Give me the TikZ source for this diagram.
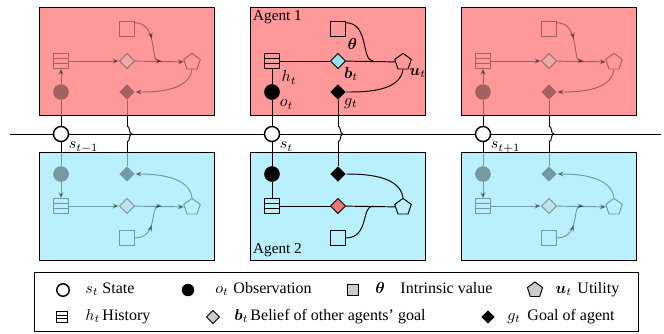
\documentclass[tikz,border=0pt]{standalone}
\usepackage{amsmath}
\usepackage{fontspec}
\setmainfont{Liberation Serif}
\usetikzlibrary{shapes.geometric,arrows.meta,decorations.pathreplacing,decorations.markings,calc}

\definecolor{agentred}{RGB}{255,153,153}
\definecolor{agentblue}{RGB}{185,240,252}
\definecolor{beliefblue}{RGB}{150,226,242}
\definecolor{beliefred}{RGB}{238,118,118}

\tikzset{
  stnode/.style={circle, draw, fill=white, line width=0.9pt, minimum size=9.4pt, inner sep=0pt},
  obnode/.style={circle, fill=black, minimum size=9.8pt, inner sep=0pt},
  hinode/.style={rectangle, draw, minimum size=8.8pt, inner sep=0pt, path picture={
      \draw ($(path picture bounding box.north west)!0.333!(path picture bounding box.south west)$)
         -- ($(path picture bounding box.north east)!0.333!(path picture bounding box.south east)$);
      \draw ($(path picture bounding box.north west)!0.667!(path picture bounding box.south west)$)
         -- ($(path picture bounding box.north east)!0.667!(path picture bounding box.south east)$);}},
  benode/.style={diamond, draw, minimum size=9.6pt, inner sep=0pt},
  gonode/.style={diamond, fill=black, minimum size=9.8pt, inner sep=0pt},
  thnode/.style={rectangle, draw, minimum size=8.8pt, inner sep=0pt},
  utnode/.style={regular polygon, regular polygon sides=5, draw, minimum size=10.8pt, inner sep=0pt},
  agentbox/.style={rectangle, draw, minimum width=109.4pt, minimum height=67.5pt, inner sep=0pt},
  flow/.style={-{Stealth[length=4pt,width=3.2pt]}},
  link/.style={-},
  flowmid/.style={postaction={decorate}, decoration={markings,
      mark=at position 0.5 with {\arrow{Stealth[length=4pt,width=3.2pt]}}}},
  linkmid/.style={},
  lbl/.style={anchor=north west, inner sep=1pt},
  txt/.style={anchor=base west, inner sep=0pt},
}

\begin{document}
\begin{tikzpicture}[x=0.625pt, y=-0.625pt, line width=0.6pt]
  \useasboundingbox (0,0) rectangle (664,333);

  % time line
  \coordinate (tl) at (10,134);
  \coordinate (tr) at (661,134);
  \draw (tl) -- (tr);

  \foreach \k/\x/\st/\op/\lk/\mk/\cb/\cr in
    {0/61/{t-1}/0.36/flow/flowmid/gray!40/gray!40,
     1/272/t/1/link/linkmid/beliefblue/beliefred,
     2/483/{t+1}/0.36/flow/flowmid/gray!40/gray!40}
  {
    \node[agentbox, fill=agentred] (top\k) at (\x+65.5,61) {};
    \node[agentbox, fill=agentblue] (bot\k) at (\x+65.5,206) {};

    \begin{scope}[opacity=\op]
      % agent 1
      \node[hinode] (ht\k) at (\x,61) {};
      \node[obnode] (ot\k) at (\x,92) {};
      \node[benode, fill=\cb] (bt\k) at (\x+66,61) {};
      \node[gonode] (gt\k) at (\x+66,92) {};
      \node[thnode] (tht\k) at (\x+66,29) {};
      \node[utnode] (ut\k) at (\x+131,62) {};
      \coordinate (mt\k) at (\x+101,61);
      \draw[\lk] (ot\k) -- (ht\k);
      \draw[\lk] (ht\k) -- (bt\k);
      \draw[\lk] (bt\k) -- (ut\k);
      \draw[\lk, \mk] (tht\k.40) .. controls +(24,0) and +(-12,0) .. (mt\k);
      \draw[\lk] (ut\k.south) .. controls +(-3,22) and +(28,0) .. (gt\k);
      \draw (ot\k) -- (ot\k |- top\k.south);
      \draw (gt\k) -- (gt\k |- top\k.south);
      % agent 2
      \node[obnode] (ob\k) at (\x,174) {};
      \node[hinode] (hb\k) at (\x,206) {};
      \node[gonode] (gb\k) at (\x+66,174) {};
      \node[benode, fill=\cr] (bb\k) at (\x+66,206) {};
      \node[thnode] (thb\k) at (\x+66,238) {};
      \node[utnode] (ub\k) at (\x+131,207) {};
      \coordinate (mb\k) at (\x+101,206);
      \draw[\lk] (ob\k) -- (hb\k);
      \draw[\lk] (hb\k) -- (bb\k);
      \draw[\lk] (bb\k) -- (ub\k);
      \draw[\lk, \mk] (thb\k.east) .. controls +(24,0) and +(-12,0) .. (mb\k);
      \draw[\lk] (ub\k.north) .. controls +(-3,-22) and +(28,0) .. (gb\k);
      \draw (ob\k) -- (ob\k |- bot\k.north);
      \draw (gb\k) -- (gb\k |- bot\k.north);
    \end{scope}

    % state and crossing
    \node[stnode] (s\k) at (\x,134) {};
    \node[lbl] (sl\k) at (s\k.south east) {$s_{\st}$};
    \draw (s\k) -- (s\k |- top\k.south);
    \draw (s\k) -- (s\k |- bot\k.north);
    \coordinate (ca\k) at (\x+66,126);
    \coordinate (cb\k) at (\x+66,142);
    \draw (ca\k |- top\k.south) -- (ca\k);
    \draw[decorate, decoration={brace, amplitude=3pt}] (ca\k) -- (cb\k);
    \draw (cb\k) -- (cb\k |- bot\k.north);
  }

  % labels of the middle step
  \node[lbl] (lh) at (ht1.south east) {$h_t$};
  \node[lbl] (lo) at (ot1.south east) {$o_t$};
  \node[lbl] (lb) at (bt1.south east) {$\boldsymbol{b}_t$};
  \node[lbl] (lg) at (gt1.south east) {$g_t$};
  \node[lbl] (lth) at (tht1.south east) {$\boldsymbol{\theta}$};
  \node[lbl, inner sep=0pt] (lu) at (ut1.south east) {$\boldsymbol{u}_t$};
  \node[anchor=north west, inner sep=2pt, font=\fontsize{9.5}{11}\selectfont] (a1) at (top1.north west) {Agent 1};
  \node[anchor=south west, inner sep=2pt, font=\fontsize{9.5}{11}\selectfont] (a2) at (bot1.south west) {Agent 2};

  % legend
  \node[draw, minimum width=378pt, minimum height=36.9pt, inner sep=0pt] (leg) at (336.5,302.3) {};
  \node[stnode, minimum size=7.8pt] (ks) at (63,290) {};
  \node[txt] (ksm) at (85,293.5) {$s_t$};
  \node[txt] (kst) at (102,293.5) {State};
  \node[obnode, minimum size=7.8pt] (ko) at (188,290) {};
  \node[txt] (kom) at (215,293.5) {$o_t$};
  \node[txt] (kot) at (233,293.5) {Observation};
  \node[thnode, fill=gray!40, minimum size=7.2pt] (kth) at (353,290) {};
  \node[txt] (kthm) at (375,293.5) {$\boldsymbol{\theta}$};
  \node[txt] (ktht) at (400,293.5) {Intrinsic value};
  \node[utnode, fill=gray!40, minimum size=10pt] (ku) at (535,290) {};
  \node[txt] (kum) at (555,293.5) {$\boldsymbol{u}_t$};
  \node[txt] (kut) at (577,293.5) {Utility};
  \node[hinode, minimum size=7.2pt] (kh) at (62,317) {};
  \node[txt] (khm) at (85,320.5) {$h_t$};
  \node[txt] (kht) at (102,320.5) {History};
  \node[benode, fill=gray!40, minimum size=8.4pt] (kb) at (213,317) {};
  \node[txt] (kbm) at (234,320.5) {$\boldsymbol{b}_t$};
  \node[txt] (kbt) at (250,320.5) {Belief of other agents' goal};
  \node[gonode, minimum size=8.4pt] (kg) at (488,317) {};
  \node[txt] (kgm) at (507,320.5) {$g_t$};
  \node[txt] (kgt) at (527,320.5) {Goal of agent};
\end{tikzpicture}
\end{document}
